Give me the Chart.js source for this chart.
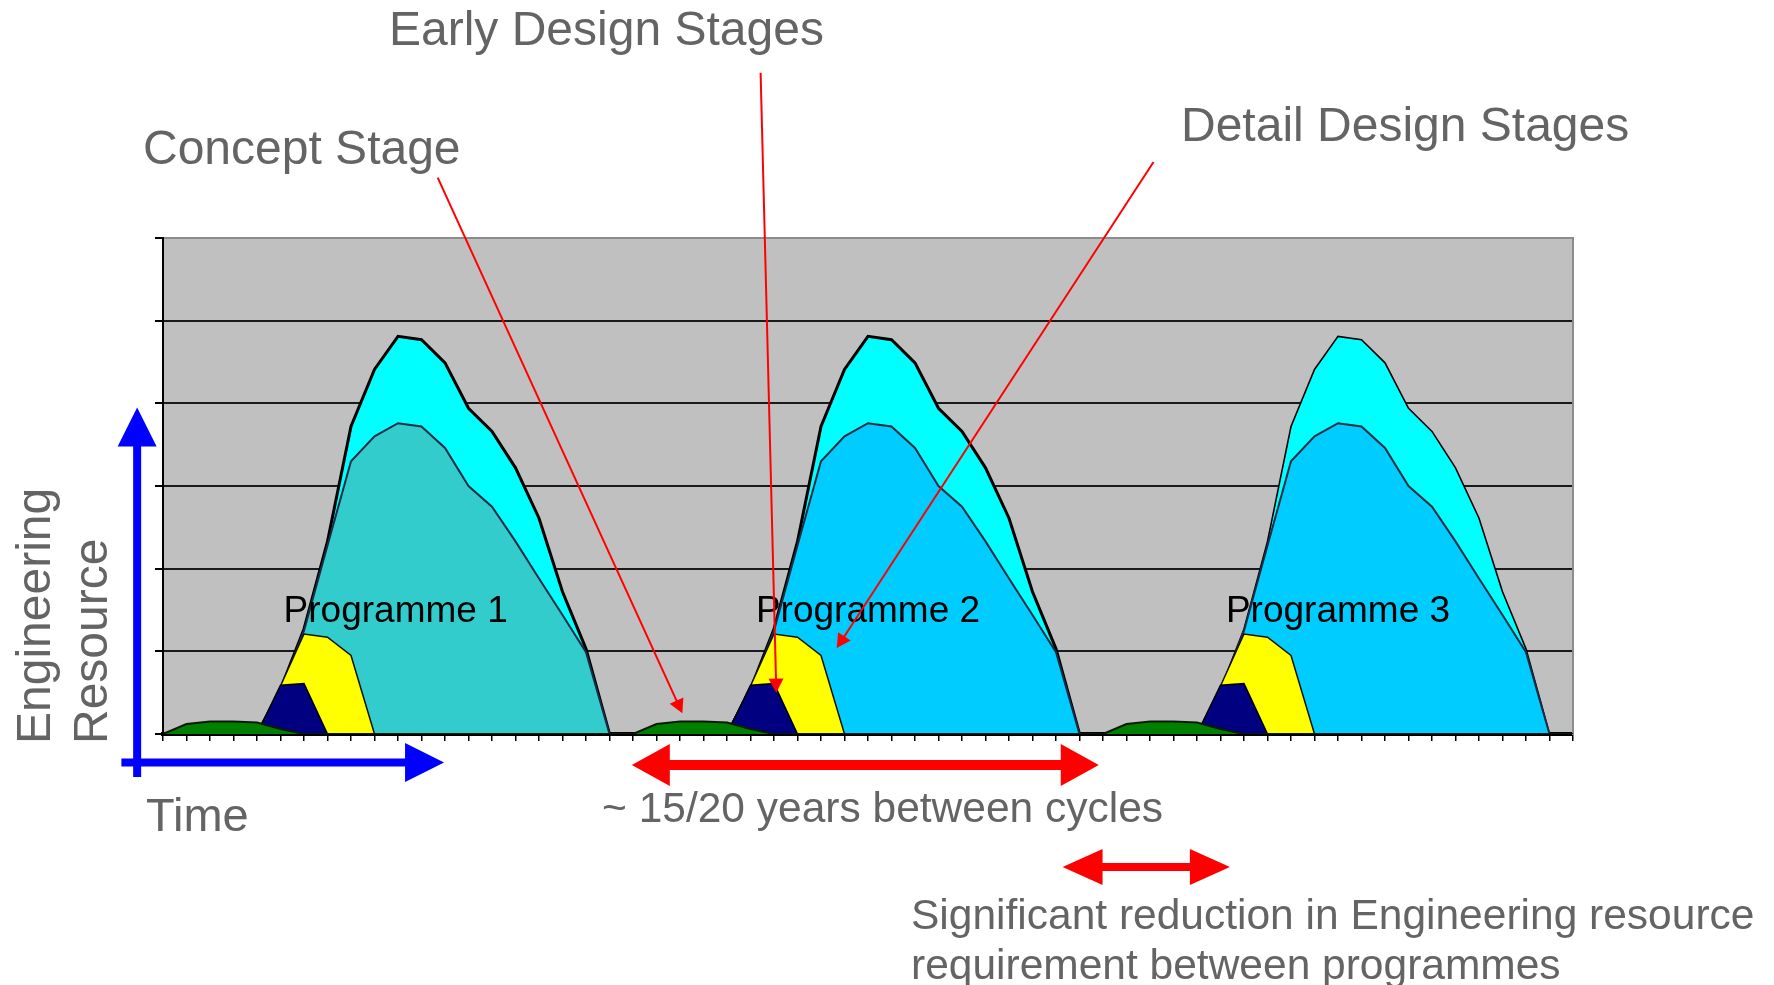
<!DOCTYPE html>
<html>
<head>
<meta charset="utf-8">
<title>Engineering resource between programme cycles</title>
<script src="https://cdn.jsdelivr.net/npm/chart.js@4.4.1/dist/chart.umd.min.js"></script>
<style>
  html,body{margin:0;padding:0;background:#fff;}
  #wrap{position:relative;width:1774px;height:985px;overflow:hidden;font-family:'Liberation Sans',Arial,sans-serif;}
  #wrap canvas{position:absolute;left:0;top:0;}
  .note{position:absolute;color:#646464;white-space:nowrap;line-height:1;}
  .rot{position:absolute;color:#646464;white-space:nowrap;transform-origin:0 0;transform:rotate(-90deg);}
</style>
</head>
<body>
<div id="wrap">
  <canvas id="cycles" width="1774" height="985"></canvas>
  <div class="note" style="left:389px;top:5px;font-size:48px">Early Design Stages</div>
  <div class="note" style="left:143px;top:124px;font-size:48px">Concept Stage</div>
  <div class="note" style="left:1181px;top:101px;font-size:48px">Detail Design Stages</div>
  <div class="note" style="left:146px;top:791px;font-size:47px">Time</div>
  <div class="note" style="left:602px;top:787px;font-size:42.5px">~ 15/20 years between cycles</div>
  <div class="note" style="left:911px;top:894px;font-size:42.5px">Significant reduction in Engineering resource</div>
  <div class="note" style="left:911px;top:944px;font-size:42.5px">requirement between programmes</div>
  <div class="rot" style="left:5px;top:744px;font-size:48px;line-height:57px">Engineering<br>Resource</div>
</div>
<script>
// ---- data (61 time steps, three programmes of 20 steps each)
const timeSteps = Array.from({length:61}, (_,i)=> String(i));

const conceptStage = [
  0,.12,.15,.15,.14,.06,0,0,0,0,0,0,0,0,0,0,0,0,0,0,
  0,.12,.15,.15,.14,.06,0,0,0,0,0,0,0,0,0,0,0,0,0,0,
  0,.12,.15,.15,.14,.06,0,0,0,0,0,0,0,0,0,0,0,0,0,0,
  0];
const earlyDesignA = [
  0,0,0,0,0,.59,.61,0,0,0,0,0,0,0,0,0,0,0,0,0,
  0,0,0,0,0,.59,.61,0,0,0,0,0,0,0,0,0,0,0,0,0,
  0,0,0,0,0,.59,.61,0,0,0,0,0,0,0,0,0,0,0,0,0,
  0];
const earlyDesignB = [
  0,0,0,0,0,.58,1.21,1.17,.95,0,0,0,0,0,0,0,0,0,0,0,
  0,0,0,0,0,.58,1.21,1.17,.95,0,0,0,0,0,0,0,0,0,0,0,
  0,0,0,0,0,.58,1.21,1.17,.95,0,0,0,0,0,0,0,0,0,0,0,
  0];
const detailDesignP1 = [
  0,0,0,0,0,.52,1.25,2.28,3.30,3.60,3.76,3.72,3.46,3.00,2.75,2.33,1.88,1.44,.99,0,
  0,0,0,0,0,0,0,0,0,0,0,0,0,0,0,0,0,0,0,0,
  0,0,0,0,0,0,0,0,0,0,0,0,0,0,0,0,0,0,0,0,
  0];
const detailDesignP23 = [
  0,0,0,0,0,0,0,0,0,0,0,0,0,0,0,0,0,0,0,0,
  0,0,0,0,0,.52,1.25,2.28,3.30,3.60,3.76,3.72,3.46,3.00,2.75,2.33,1.88,1.44,.99,0,
  0,0,0,0,0,.52,1.25,2.28,3.30,3.60,3.76,3.72,3.46,3.00,2.75,2.33,1.88,1.44,.99,0,
  0];
const finalStages = [
  0,0,0,0,0,.54,1.27,2.33,3.72,4.41,4.81,4.77,4.49,3.94,3.66,3.22,2.61,1.72,1.03,0,
  0,0,0,0,0,.54,1.27,2.33,3.72,4.41,4.81,4.77,4.49,3.94,3.66,3.22,2.61,1.72,1.03,0,
  0,0,0,0,0,.54,1.27,2.33,3.72,4.41,4.81,4.77,4.49,3.94,3.66,3.22,2.61,1.72,1.03,0,
  0];

const programmeNames = ['Programme 1','Programme 2','Programme 3'];
const programmeCentres = [9.9, 30, 50];
const yMax = 6;

// ---- annotation geometry, in (step, resource) units so it follows the scales
const pointers = [
  {from:[11.69, 6.73], to:[22.1, 0.25]},   // Concept Stage
  {from:[25.43, 8.0],  to:[26.1, 0.50]},   // Early Design Stages
  {from:[42.15, 6.92], to:[28.67, 1.04]}   // Detail Design Stages
];
const axisArrows = [
  {from:[-1.1, -0.52], to:[-1.1, 3.95], w:8, len:39, half:19.5},
  {from:[-1.77, -0.345], to:[11.96, -0.345], w:8, len:39, half:19.5}
];
const spanArrows = [
  {a:[19.95, -0.375], b:[39.82, -0.375], w:10, len:38, half:21},
  {a:[38.28, -1.61],  b:[45.4, -1.61],   w:8,  len:40, half:18}
];

const PLOT_BG = '#c0c0c0';
const BLUE = '#0000ff', RED = '#ff0000';

// ---- plugins
const backdrop = {
  id:'backdrop',
  beforeDraw(chart){
    const {ctx, chartArea:a} = chart;
    ctx.save();
    ctx.fillStyle = PLOT_BG;
    ctx.fillRect(a.left, a.top, a.right-a.left, a.bottom-a.top);
    ctx.restore();
  }
};

function head(ctx, x0, y0, x1, y1, len, half){
  const ang = Math.atan2(y1-y0, x1-x0), c = Math.cos(ang), s = Math.sin(ang);
  ctx.beginPath();
  ctx.moveTo(x1, y1);
  ctx.lineTo(x1 - len*c + half*s, y1 - len*s - half*c);
  ctx.lineTo(x1 - len*c - half*s, y1 - len*s + half*c);
  ctx.closePath();
  ctx.fill();
}
function shaft(ctx, x0, y0, x1, y1, len, w){
  const ang = Math.atan2(y1-y0, x1-x0);
  ctx.lineWidth = w;
  ctx.beginPath();
  ctx.moveTo(x0, y0);
  ctx.lineTo(x1 - len*0.9*Math.cos(ang), y1 - len*0.9*Math.sin(ang));
  ctx.stroke();
}

const labels = {
  id:'labels',
  afterDatasetsDraw(chart){
    const {ctx, scales:{x, y}} = chart;
    ctx.save();
    ctx.fillStyle = '#000';
    ctx.font = "37px 'Liberation Sans', Arial, sans-serif";
    ctx.textAlign = 'center';
    ctx.textBaseline = 'alphabetic';
    programmeNames.forEach((n,i)=> ctx.fillText(n, x.getPixelForValue(programmeCentres[i]), y.getPixelForValue(1.36)));
    ctx.restore();
  },
  afterDraw(chart){
    const {ctx, scales:{x, y}} = chart;
    const P = ([i,v]) => [x.getPixelForValue(i), y.getPixelForValue(v)];
    ctx.save();
    ctx.lineCap = 'butt';
    // red pointers from the stage captions
    ctx.strokeStyle = RED; ctx.fillStyle = RED;
    pointers.forEach(p=>{
      const [x0,y0] = P(p.from), [x1,y1] = P(p.to);
      shaft(ctx, x0, y0, x1, y1, 14, 2);
      head(ctx, x0, y0, x1, y1, 14, 7.5);
    });
    // red span arrows
    spanArrows.forEach(s=>{
      const [x0,y0] = P(s.a), [x1,y1] = P(s.b);
      ctx.lineWidth = s.w;
      ctx.beginPath(); ctx.moveTo(x0 + s.len*0.9, y0); ctx.lineTo(x1 - s.len*0.9, y1); ctx.stroke();
      head(ctx, x1, y1, x0, y0, s.len, s.half);
      head(ctx, x0, y0, x1, y1, s.len, s.half);
    });
    // blue axis arrows
    ctx.strokeStyle = BLUE; ctx.fillStyle = BLUE;
    axisArrows.forEach(a=>{
      const [x0,y0] = P(a.from), [x1,y1] = P(a.to);
      shaft(ctx, x0, y0, x1, y1, a.len, a.w);
      head(ctx, x0, y0, x1, y1, a.len, a.half);
    });
    ctx.restore();
  }
};

// ---- chart
function area(label, data, bg, border, width){
  return { label, data, backgroundColor:bg, borderColor:border, borderWidth:width,
           fill:'origin', pointRadius:0, tension:0 };
}

const ds = [
  area('Concept stage', conceptStage, '#008000', '#0a1a0a', 2),
  area('Early design', earlyDesignA, '#000080', '#000000', 1.5),
  area('Early design (2)', earlyDesignB, '#ffff00', '#111111', 1.5),
  area('Detail design', detailDesignP1, '#33cccc', '#1b2c44', 2),
  area('Detail design', detailDesignP23, '#00ccff', '#1b2c44', 2),
  area('Later stages', finalStages, '#00ffff', '#000000', 3)
];
ds[5].segment = { borderWidth: c => c.p0DataIndex >= 40 ? 1.6 : 3 };

new Chart(document.getElementById('cycles'), {
  type:'line',
  data:{ labels: timeSteps, datasets: ds },
  options:{
    responsive:false,
    animation:false,
    devicePixelRatio:1,
    layout:{ padding:{ left:155, right:201, top:238, bottom:244 } },
    plugins:{ legend:{display:false}, tooltip:{enabled:false} },
    scales:{
      x:{
        offset:false,
        grid:{ drawOnChartArea:false, drawTicks:true, tickLength:7, color:'#000', lineWidth:1.5 },
        border:{ display:true, color:'#000', width:4 },
        ticks:{ display:false, autoSkip:false }
      },
      y:{
        min:0, max:yMax,
        grid:{ color: c => c.tick && c.tick.value === yMax ? '#8c8c8c' : '#1a1a1a',
               tickColor:'#000', lineWidth:2, tickLength:8 },
        border:{ display:true, color:'#000', width:2 },
        ticks:{ display:false, stepSize:1 }
      },
      y2:{
        position:'right', display:true, min:0, max:yMax,
        grid:{ display:false, drawTicks:false, tickLength:0 },
        border:{ display:true, color:'#8c8c8c', width:2 },
        ticks:{ display:false }
      }
    }
  },
  plugins:[backdrop, labels]
});
</script>
</body>
</html>
